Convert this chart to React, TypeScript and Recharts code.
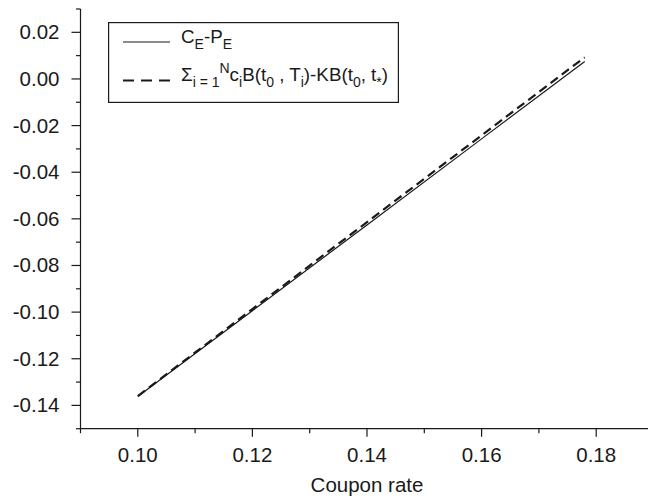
import React from 'react';
import { LineChart, Line, XAxis, YAxis, Legend } from 'recharts';

const couponRates = [0.1, 0.12, 0.14, 0.16, 0.178];
const callMinusPut = [-0.1362, -0.0994, -0.0626, -0.0257, 0.0075];
const bondReplication = [-0.136, -0.0987, -0.0614, -0.0242, 0.0093];
const xTicks = [0.09, 0.1, 0.11, 0.12, 0.13, 0.14, 0.15, 0.16, 0.17, 0.18, 0.19];
const yTicks = [-0.15, -0.14, -0.13, -0.12, -0.11, -0.1, -0.09, -0.08, -0.07, -0.06, -0.05, -0.04, -0.03, -0.02, -0.01, 0, 0.01, 0.02, 0.03];

const data = couponRates.map((x, i) => ({ x, solid: callMinusPut[i], dashed: bondReplication[i] }));

const FONT = 'Arial, "Liberation Sans", sans-serif';
const INK = '#1a1a1a';
const TICK_FS = 20.5;
const LEG_FS = 18.8;
const SUB_FS = 14;

const isMajor = (v: number) => Math.round(v * 100) % 2 === 0;

const XTick = (props: any) => {
  const { x, y, payload } = props;
  const major = isMajor(payload.value);
  return (
    <g>
      <line x1={x} y1={y} x2={x} y2={y + (major ? 8 : 4.5)} stroke={INK} strokeWidth={1.2} />
      {major && (
        <text x={x} y={y + 33} textAnchor="middle" fontSize={TICK_FS} fontFamily={FONT} fill={INK}>
          {payload.value.toFixed(2)}
        </text>
      )}
    </g>
  );
};

const YTick = (props: any) => {
  const { x, y, payload } = props;
  const major = isMajor(payload.value);
  return (
    <g>
      <line x1={x - (major ? 9 : 4.5)} y1={y} x2={x} y2={y} stroke={INK} strokeWidth={1.2} />
      {major && (
        <text x={x - 21} y={y + 7} textAnchor="end" fontSize={TICK_FS} fontFamily={FONT} fill={INK}>
          {payload.value.toFixed(2)}
        </text>
      )}
    </g>
  );
};

const LegendBox = () => (
  <svg width={291} height={81} style={{ display: 'block' }}>
    <rect x={0.6} y={0.6} width={289.8} height={79.8} fill="#fff" stroke={INK} strokeWidth={1.2} />
    <line x1={15} y1={20} x2={62} y2={20} stroke={INK} strokeWidth={1.2} />
    <line x1={15} y1={58.5} x2={62} y2={58.5} stroke={INK} strokeWidth={2.2} strokeDasharray="11 7" />
    <text x={73} y={21} fontSize={LEG_FS} fontFamily={FONT} fill={INK}>
      <tspan>C</tspan>
      <tspan dy={6} fontSize={SUB_FS}>E</tspan>
      <tspan dy={-6}>-P</tspan>
      <tspan dy={6} fontSize={SUB_FS}>E</tspan>
    </text>
    <text x={73} y={58.5} fontSize={LEG_FS} fontFamily={FONT} fill={INK} xmlSpace="preserve">
      <tspan>Σ</tspan>
      <tspan dy={6} fontSize={SUB_FS}>i = 1</tspan>
      <tspan dy={-14} fontSize={SUB_FS}>N</tspan>
      <tspan dy={8}>c</tspan>
      <tspan dy={6} fontSize={SUB_FS}>i</tspan>
      <tspan dy={-6}>B(t</tspan>
      <tspan dy={6} fontSize={SUB_FS}>0</tspan>
      <tspan dy={-6}>{' , T'}</tspan>
      <tspan dy={6} fontSize={SUB_FS}>i</tspan>
      <tspan dy={-6}>)-KB(t</tspan>
      <tspan dy={6} fontSize={SUB_FS}>0</tspan>
      <tspan dy={-6}>, t</tspan>
      <tspan dy={6} fontSize={SUB_FS}>*</tspan>
      <tspan dy={-6}>)</tspan>
    </text>
  </svg>
);

export default function App() {
  return (
    <div style={{ position: 'absolute', left: 0, top: 0, width: 648, height: 500, overflow: 'hidden', background: '#fff' }}>
      <LineChart width={660} height={500} data={data} margin={{ top: 9, right: 6.5, bottom: 0, left: 0 }}>
        <XAxis
          dataKey="x"
          type="number"
          domain={[0.09, 0.19]}
          ticks={xTicks}
          interval={0}
          allowDataOverflow
          height={71.3}
          tickSize={0}
          tickMargin={0}
          tickLine={false}
          tick={<XTick />}
          axisLine={{ stroke: INK, strokeWidth: 1.2 }}
          label={{ value: 'Coupon rate', position: 'insideBottom', offset: 8, fontSize: 20.5, fontFamily: FONT, fill: INK }}
        />
        <YAxis
          type="number"
          domain={[-0.15, 0.03]}
          ticks={yTicks}
          interval={0}
          allowDataOverflow
          width={80.5}
          tickSize={0}
          tickMargin={0}
          tickLine={false}
          tick={<YTick />}
          axisLine={{ stroke: INK, strokeWidth: 1.2 }}
        />
        <Legend
          layout="vertical"
          align="center"
          verticalAlign="middle"
          content={() => <LegendBox />}
          wrapperStyle={{ left: 108, top: 21.5, width: 291, height: 81 }}
        />
        <Line dataKey="solid" type="linear" stroke={INK} strokeWidth={1.2} dot={false} isAnimationActive={false} />
        <Line dataKey="dashed" type="linear" stroke={INK} strokeWidth={2.2} strokeDasharray="9 5" dot={false} isAnimationActive={false} />
      </LineChart>
    </div>
  );
}
